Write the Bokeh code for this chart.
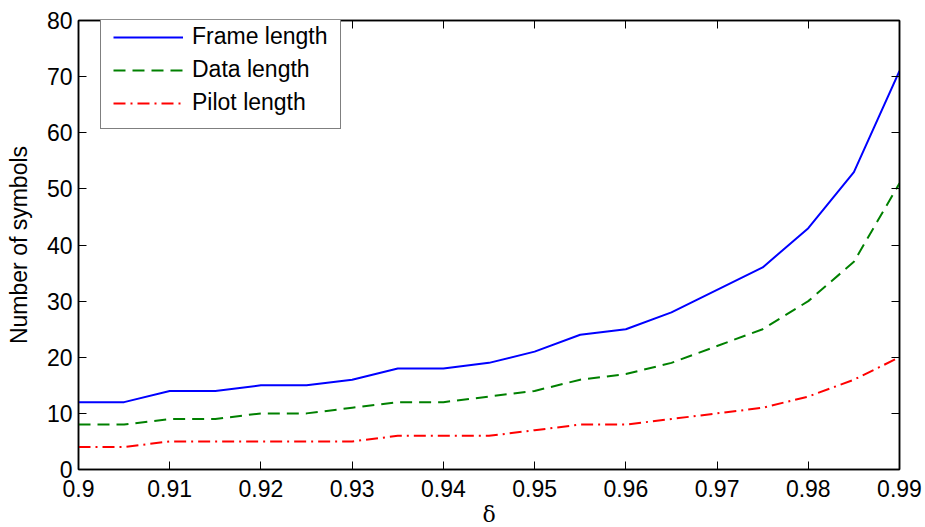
from bokeh.plotting import figure
from bokeh.models import (Range1d, FixedTicker, LinearAxis, Legend, LegendItem,
                          CustomJSTickFormatter)
from bokeh.embed import file_html
from bokeh.resources import INLINE

# Threshold delta and resulting lengths (symbols)
delta = [0.900, 0.905, 0.910, 0.915, 0.920, 0.925, 0.930, 0.935, 0.940, 0.945,
         0.950, 0.955, 0.960, 0.965, 0.970, 0.975, 0.980, 0.985, 0.990]
frame_len = [12, 12, 14, 14, 15, 15, 16, 18, 18, 19, 21, 24, 25, 28, 32, 36, 43, 53, 71]
data_len = [8, 8, 9, 9, 10, 10, 11, 12, 12, 13, 14, 16, 17, 19, 22, 25, 30, 37, 51]
pilot_len = [4, 4, 5, 5, 5, 5, 5, 6, 6, 6, 7, 8, 8, 9, 10, 11, 13, 16, 20]

x_ticks = [0.90, 0.91, 0.92, 0.93, 0.94, 0.95, 0.96, 0.97, 0.98, 0.99]
y_ticks = [0, 10, 20, 30, 40, 50, 60, 70, 80]

FONT = "Liberation Sans"
FS = "23px"

p = figure(width=925, height=527, output_backend="svg", toolbar_location=None,
           x_range=Range1d(0.9, 0.99), y_range=Range1d(0, 80),
           min_border_left=78, min_border_right=26, min_border_top=20,
           min_border_bottom=58, x_axis_label="δ", y_axis_label="Number of symbols")
p.frame_width = 821
p.frame_height = 449
p.grid.visible = False
p.outline_line_color = "black"
p.outline_line_width = 1.5
p.background_fill_color = "white"
p.border_fill_color = "white"

fmt = CustomJSTickFormatter(code="return String(Number(tick.toFixed(3)));")

for ax in p.xaxis:
    ax.ticker = FixedTicker(ticks=x_ticks)
    ax.formatter = fmt
for ax in p.yaxis:
    ax.ticker = FixedTicker(ticks=y_ticks)

for ax in p.axis:
    ax.major_tick_in = 8
    ax.major_tick_out = 0
    ax.minor_tick_line_color = None
    ax.axis_line_color = "black"
    ax.axis_line_width = 1.5
    ax.major_tick_line_color = "black"
    ax.major_tick_line_width = 1
    ax.major_label_text_font = FONT
    ax.major_label_text_font_size = FS
    ax.major_label_text_color = "black"
    ax.major_label_standoff = 6
    ax.axis_label_text_font_style = "normal"
    ax.axis_label_text_color = "black"

p.xaxis.major_label_standoff = 10
p.yaxis.axis_label_text_font = FONT
p.yaxis.axis_label_text_font_size = FS
p.yaxis.axis_label_standoff = 12
p.xaxis.axis_label_text_font = "DejaVu Serif"
p.xaxis.axis_label_text_font_size = "22px"
p.xaxis.axis_label_standoff = 2

# mirrored tick-only axes on the top and right edges
blank = CustomJSTickFormatter(code="return '';")
top = LinearAxis(ticker=FixedTicker(ticks=x_ticks), formatter=blank,
                 major_tick_in=8, major_tick_out=0, minor_tick_line_color=None,
                 axis_line_color="black", axis_line_width=1.5, major_label_standoff=0)
right = LinearAxis(ticker=FixedTicker(ticks=y_ticks), formatter=blank,
                   major_tick_in=8, major_tick_out=0, minor_tick_line_color=None,
                   axis_line_color="black", axis_line_width=1.5, major_label_standoff=0)
p.add_layout(top, "above")
p.add_layout(right, "right")

r1 = p.line(delta, frame_len, line_color="#0000ff", line_width=2)
r2 = p.line(delta, data_len, line_color="#008000", line_width=2, line_dash="12 7")
r3 = p.line(delta, pilot_len, line_color="#ff0000", line_width=2, line_dash="12 5 2 5")

legend = Legend(items=[LegendItem(label="Frame length", renderers=[r1]),
                       LegendItem(label="Data length", renderers=[r2]),
                       LegendItem(label="Pilot length", renderers=[r3])],
                location=(22, 340), border_line_color="black", border_line_width=1.5,
                label_text_font=FONT, label_text_font_size=FS,
                label_text_color="black",
                glyph_width=70, glyph_height=20, label_height=20, spacing=6,
                padding=12, label_standoff=9, margin=0,
                background_fill_color="white", background_fill_alpha=1.0)
p.add_layout(legend, "center")

open("out.html", "w").write(file_html(p, INLINE))
